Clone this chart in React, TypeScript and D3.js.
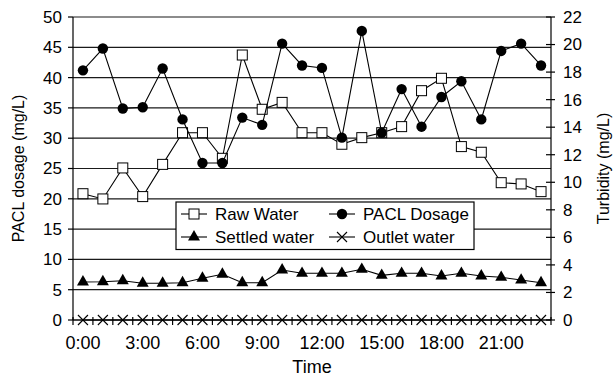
import React from "react";
import * as d3 from "d3";

// Hourly sampling times over one day
const hours: string[] = [
  "0:00", "1:00", "2:00", "3:00", "4:00", "5:00", "6:00", "7:00",
  "8:00", "9:00", "10:00", "11:00", "12:00", "13:00", "14:00", "15:00",
  "16:00", "17:00", "18:00", "19:00", "20:00", "21:00", "22:00", "23:00",
];
const timeTickLabels: string[] = ["0:00", "3:00", "6:00", "9:00", "12:00", "15:00", "18:00", "21:00"];

// PACL dosage (mg/L), left axis
const paclDosage: number[] = [
  41.2, 44.8, 34.9, 35.1, 41.5, 33.1, 25.9, 25.9, 33.4, 32.2, 45.6, 42.0,
  41.6, 30.1, 47.7, 30.9, 38.1, 31.9, 36.8, 39.4, 33.1, 44.4, 45.6, 42.0,
];
// Turbidity (mg/L), right axis
const rawWater: number[] = [
  9.17, 8.79, 11.04, 8.96, 11.3, 13.6, 13.6, 11.74, 19.24, 15.3, 15.8, 13.6,
  13.6, 12.76, 13.24, 13.6, 14.04, 16.65, 17.55, 12.59, 12.18, 9.97, 9.88, 9.32,
];
const settledWater: number[] = [
  2.76, 2.78, 2.85, 2.67, 2.67, 2.71, 3.03, 3.32, 2.71, 2.71, 3.63, 3.39,
  3.39, 3.39, 3.68, 3.24, 3.39, 3.39, 3.2, 3.39, 3.2, 3.1, 2.9, 2.71,
];
const outletWater: number[] = [
  0, 0, 0, 0, 0, 0, 0, 0, 0, 0, 0, 0,
  0, 0, 0, 0, 0, 0, 0, 0, 0, 0, 0, 0,
];

const leftTicks: number[] = [0, 5, 10, 15, 20, 25, 30, 35, 40, 45, 50];
const rightTicks: number[] = [0, 2, 4, 6, 8, 10, 12, 14, 16, 18, 20, 22];

const W = 615;
const H = 378;
const FONT = "'Liberation Sans', Arial, Helvetica, sans-serif";

type Shape = "square" | "circle" | "triangle" | "cross";

function Marker({ shape, x, y }: { shape: Shape; x: number; y: number }) {
  if (shape === "square") {
    return <rect x={x - 5} y={y - 5} width={10} height={10} fill="#fff" stroke="#000" strokeWidth={1} />;
  }
  if (shape === "circle") {
    return <circle cx={x} cy={y} r={5.2} fill="#000" />;
  }
  if (shape === "triangle") {
    const p = d3.symbol(d3.symbolTriangle, 62)();
    return <path d={p || ""} transform={`translate(${x},${y})`} fill="#000" />;
  }
  return (
    <g stroke="#000" strokeWidth={1.1}>
      <line x1={x - 5} y1={y - 5} x2={x + 5} y2={y + 5} />
      <line x1={x - 5} y1={y + 5} x2={x + 5} y2={y - 5} />
    </g>
  );
}

export default function App() {
  const left = 73;
  const right = 551;
  const top = 17;
  const bottom = 320;

  const x = d3.scaleBand<string>().domain(hours).range([left, right]);
  const cx = (h: string) => (x(h) as number) + x.bandwidth() / 2;
  const yL = d3.scaleLinear().domain([0, 50]).range([bottom, top]);
  const yR = d3.scaleLinear().domain([0, 22]).range([bottom, top]);

  const series: { name: string; values: number[]; scale: d3.ScaleLinear<number, number>; shape: Shape }[] = [
    { name: "Outlet water", values: outletWater, scale: yR, shape: "cross" },
    { name: "Settled water", values: settledWater, scale: yR, shape: "triangle" },
    { name: "Raw Water", values: rawWater, scale: yR, shape: "square" },
    { name: "PACL Dosage", values: paclDosage, scale: yL, shape: "circle" },
  ];

  const boundaries = d3.range(hours.length + 1).map((i) => left + i * x.step());

  const legendItems: { name: string; shape: Shape; col: number; row: number }[] = [
    { name: "Raw Water", shape: "square", col: 0, row: 0 },
    { name: "PACL Dosage", shape: "circle", col: 1, row: 0 },
    { name: "Settled water", shape: "triangle", col: 0, row: 1 },
    { name: "Outlet water", shape: "cross", col: 1, row: 1 },
  ];

  return (
    <svg width={W} height={H} style={{ position: "absolute", left: 0, top: 0, background: "#fff" }} fontFamily={FONT}>
      {/* horizontal gridlines */}
      {leftTicks.map((t) => (
        <line key={"g" + t} x1={left} x2={right} y1={yL(t)} y2={yL(t)} stroke="#1a1a1a" strokeWidth={1.2} />
      ))}

      {/* left axis */}
      <line x1={left} x2={left} y1={top} y2={bottom} stroke="#000" strokeWidth={1.2} />
      {leftTicks.map((t) => (
        <g key={"l" + t}>
          <line x1={left - 5} x2={left} y1={yL(t)} y2={yL(t)} stroke="#000" strokeWidth={1.2} />
          <text x={62} y={yL(t)} dy="0.35em" textAnchor="end" fontSize={17}>{t}</text>
        </g>
      ))}

      {/* right axis */}
      <line x1={right} x2={right} y1={top} y2={bottom} stroke="#000" strokeWidth={1.2} />
      {rightTicks.map((t) => (
        <g key={"r" + t}>
          <line x1={right - 5} x2={right + 4} y1={yR(t)} y2={yR(t)} stroke="#000" strokeWidth={1.2} />
          <text x={563} y={yR(t)} dy="0.35em" textAnchor="start" fontSize={17}>{t}</text>
        </g>
      ))}

      {/* time axis */}
      <line x1={left} x2={right} y1={bottom} y2={bottom} stroke="#000" strokeWidth={1.2} />
      {boundaries.map((b, i) => (
        <line key={"b" + i} x1={b} x2={b} y1={bottom - 3} y2={bottom + 5} stroke="#000" strokeWidth={1.2} />
      ))}
      {timeTickLabels.map((h) => (
        <text key={"t" + h} x={cx(h)} y={349} textAnchor="middle" fontSize={18}>{h}</text>
      ))}

      {/* axis titles */}
      <text x={312} y={373} textAnchor="middle" fontSize={18}>Time</text>
      <text transform={`translate(24,${(top + bottom) / 2}) rotate(-90)`} textAnchor="middle" fontSize={16}>PACL dosage (mg/L)</text>
      <text transform={`translate(609,${(top + bottom) / 2}) rotate(-90)`} textAnchor="middle" fontSize={16}>Turbidity (mg/L)</text>

      {/* series */}
      {series.map((s) => {
        const line = d3
          .line<number>()
          .x((_, i) => cx(hours[i]))
          .y((v) => s.scale(v));
        return (
          <g key={s.name}>
            <path d={line(s.values) || ""} fill="none" stroke="#000" strokeWidth={1.1} />
            {s.values.map((v, i) => (
              <Marker key={i} shape={s.shape} x={cx(hours[i])} y={s.scale(v)} />
            ))}
          </g>
        );
      })}

      {/* legend */}
      <g>
        <rect x={176} y={202} width={298} height={47.5} fill="#fff" stroke="#000" strokeWidth={1.2} />
        {legendItems.map((it) => {
          const lx = 181 + it.col * 148;
          const ly = 214 + it.row * 23;
          return (
            <g key={it.name}>
              <line x1={lx} x2={lx + 26} y1={ly} y2={ly} stroke="#000" strokeWidth={1.1} />
              <Marker shape={it.shape} x={lx + 13} y={ly} />
              <text x={lx + 34} y={ly} dy="0.35em" fontSize={17}>{it.name}</text>
            </g>
          );
        })}
      </g>
    </svg>
  );
}
